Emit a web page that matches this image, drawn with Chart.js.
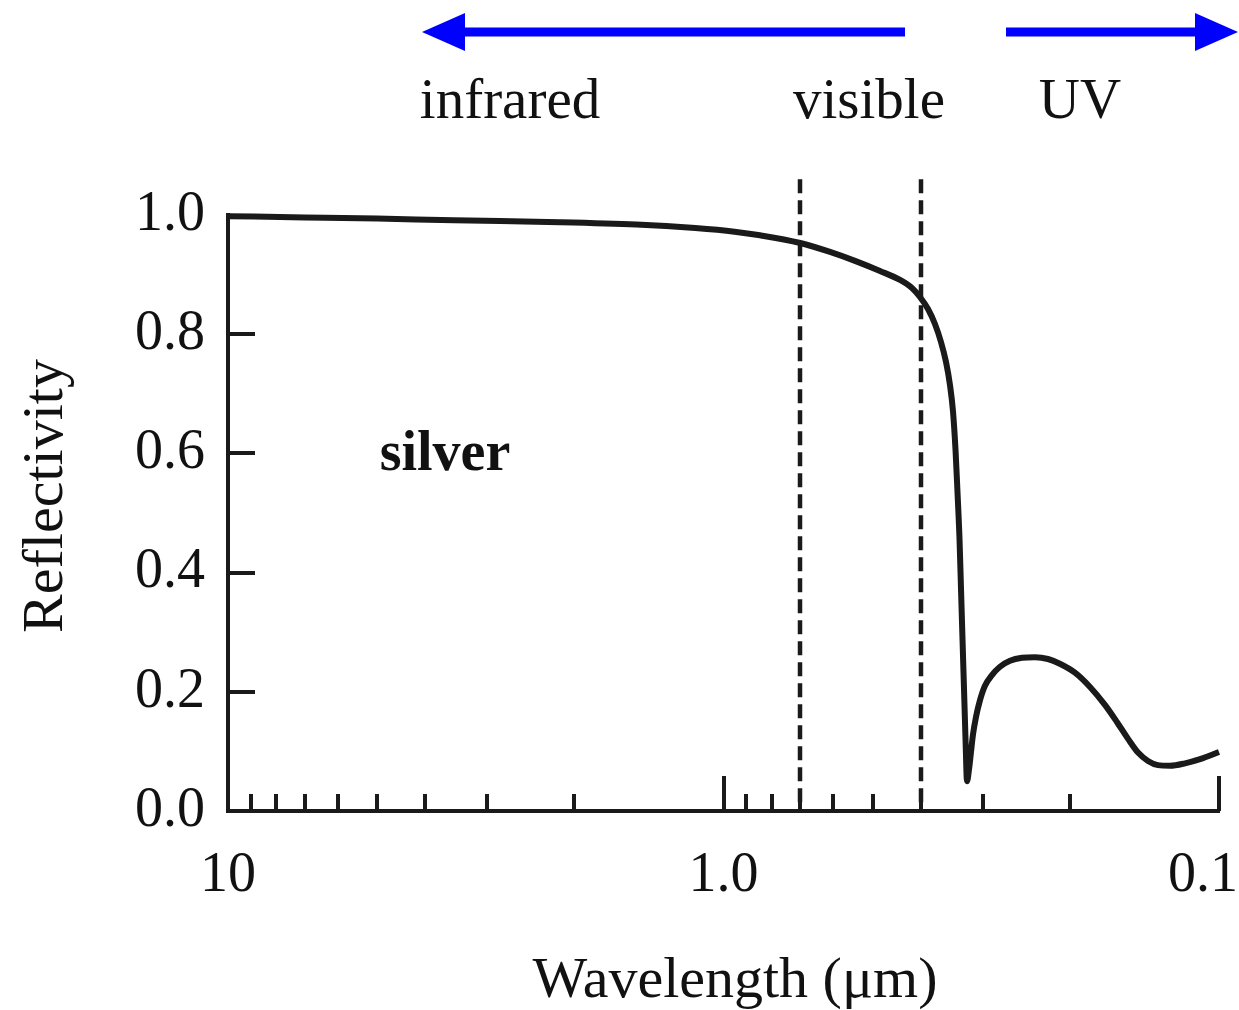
<!DOCTYPE html>
<html>
<head>
<meta charset="utf-8">
<script src="https://cdn.jsdelivr.net/npm/chart.js@4.4.1/dist/chart.umd.min.js"></script>
<style>
  html, body { margin: 0; padding: 0; background: #fff; }
</style>
</head>
<body>
<canvas id="reflChart" width="1239" height="1010"></canvas>
<script>
// silver reflectivity vs wavelength (um)
var wavelengths = [10, 7, 5, 3.5, 2.14, 1.5, 1.14, 0.95, 0.844, 0.7, 0.6096, 0.5428, 0.4832, 0.4403, 0.4165, 0.4013,
                   0.3866, 0.3743, 0.364, 0.3556, 0.3491, 0.3442, 0.3402, 0.3371, 0.3339, 0.3316, 0.3293,
                   0.327, 0.3248, 0.3225,
                   0.3196, 0.3166, 0.3137, 0.3093, 0.3036, 0.2967, 0.2872, 0.2767, 0.2641, 0.2498, 0.2351,
                   0.2214, 0.2095, 0.1953, 0.1821, 0.1699, 0.1606, 0.1526, 0.1457, 0.1391, 0.1328, 0.1256,
                   0.1171, 0.1092, 0.1];
var reflectivity = [0.998, 0.996, 0.994, 0.991, 0.988, 0.984, 0.978, 0.972, 0.966, 0.953, 0.938, 0.923, 0.906, 0.891, 0.8775, 0.8624,
                    0.8423, 0.8171, 0.7869, 0.7534, 0.7148, 0.6705, 0.6057, 0.535, 0.455, 0.371, 0.287,
                    0.203, 0.122, 0.05,
                    0.069, 0.099, 0.128, 0.158, 0.186, 0.210, 0.228, 0.242, 0.252, 0.257, 0.258,
                    0.255, 0.247, 0.232, 0.208, 0.178, 0.149, 0.121, 0.098, 0.084, 0.077, 0.076,
                    0.080, 0.087, 0.099];

var xMajorTicks = [10, 1, 0.1];
var xTickLabels = ['10', '1.0', '0.1'];
var xMinorTicks = [9, 8, 7, 6, 5, 4, 3, 2, 0.9, 0.8, 0.7, 0.6, 0.5, 0.4, 0.3, 0.2];
var yTickValues = [0, 0.2, 0.4, 0.6, 0.8, 1.0];
var yInnerTicks = [0.2, 0.4, 0.6, 0.8];
var visibleEdges = [0.7, 0.4];
var bandLabels = ['infrared', 'visible', 'UV'];
var materialLabel = 'silver';
var xTitle = 'Wavelength (μm)';
var yTitle = 'Reflectivity';

var ink = '#1a1a1a';
var serif = '"Liberation Serif", "Times New Roman", serif';

var points = [];
for (var i = 0; i < wavelengths.length; i++) {
  points.push({x: wavelengths[i], y: reflectivity[i]});
}

function arrow(ctx, x0, x1, y, dir) {
  // dir -1 = head on the left, +1 = head on the right
  var headLen = 43, headHalf = 19;
  ctx.fillStyle = '#0000ff';
  if (dir < 0) {
    ctx.fillRect(x0 + headLen - 2, y - 4.5, x1 - x0 - headLen + 2, 9);
    ctx.beginPath();
    ctx.moveTo(x0, y);
    ctx.lineTo(x0 + headLen, y - headHalf);
    ctx.lineTo(x0 + headLen, y + headHalf);
    ctx.closePath();
    ctx.fill();
  } else {
    ctx.fillRect(x0, y - 4.5, x1 - x0 - headLen + 2, 9);
    ctx.beginPath();
    ctx.moveTo(x1, y);
    ctx.lineTo(x1 - headLen, y - headHalf);
    ctx.lineTo(x1 - headLen, y + headHalf);
    ctx.closePath();
    ctx.fill();
  }
}

var decorPlugin = {
  id: 'decor',
  beforeDatasetsDraw: function(chart) {
    var ctx = chart.ctx, xs = chart.scales.x, ys = chart.scales.y;
    ctx.save();
    ctx.strokeStyle = ink;
    ctx.lineWidth = 4.5;
    ctx.setLineDash([14, 7]);
    visibleEdges.forEach(function(v) {
      var px = Math.round(xs.getPixelForValue(v));
      ctx.beginPath();
      ctx.moveTo(px, ys.getPixelForValue(1.06));
      ctx.lineTo(px, ys.getPixelForValue(0));
      ctx.stroke();
    });
    ctx.restore();
  },
  afterDraw: function(chart) {
    var ctx = chart.ctx, xs = chart.scales.x, ys = chart.scales.y;
    var bottom = ys.getPixelForValue(0);
    var left = xs.getPixelForValue(10);
    ctx.save();
    ctx.strokeStyle = ink;
    ctx.lineWidth = 4;
    ctx.setLineDash([]);
    // inward tick marks
    xMajorTicks.forEach(function(v) {
      var px = Math.round(xs.getPixelForValue(v));
      ctx.beginPath(); ctx.moveTo(px, bottom); ctx.lineTo(px, bottom - 35); ctx.stroke();
    });
    xMinorTicks.forEach(function(v) {
      var px = Math.round(xs.getPixelForValue(v));
      ctx.beginPath(); ctx.moveTo(px, bottom); ctx.lineTo(px, bottom - 17); ctx.stroke();
    });
    yInnerTicks.forEach(function(v) {
      var py = Math.round(ys.getPixelForValue(v));
      ctx.beginPath(); ctx.moveTo(left, py); ctx.lineTo(left + 27, py); ctx.stroke();
    });

    // spectrum bands at the top
    arrow(ctx, 422, 905, 32, -1);
    arrow(ctx, 1006, 1238, 32, 1);

    ctx.fillStyle = '#111';
    ctx.textAlign = 'center';
    ctx.textBaseline = 'alphabetic';

    // x tick labels
    ctx.font = '56px ' + serif;
    xMajorTicks.forEach(function(v, i) {
      var w = ctx.measureText(xTickLabels[i]).width;
      var px = Math.min(xs.getPixelForValue(v), chart.width - w / 2 - 1);
      ctx.fillText(xTickLabels[i], px, 891);
    });

    ctx.font = '57px ' + serif;
    ctx.fillText(bandLabels[0], 510, 118);
    ctx.fillText(bandLabels[1], 869, 118);
    ctx.fillText(bandLabels[2], 1080, 118);

    // axis titles
    ctx.font = '58px ' + serif;
    ctx.fillText(xTitle, 735, 997);
    ctx.save();
    ctx.translate(47, 496);
    ctx.rotate(-Math.PI / 2);
    ctx.textBaseline = 'middle';
    ctx.fillText(yTitle, 0, 0);
    ctx.restore();

    // material label
    ctx.font = 'bold 56px ' + serif;
    ctx.fillText(materialLabel, 445, 470);
    ctx.restore();
  }
};

var ctx = document.getElementById('reflChart');
var reflChart = new Chart(ctx, {
  type: 'scatter',
  data: {
    datasets: [{
      label: 'silver',
      data: points,
      showLine: true,
      borderColor: ink,
      borderWidth: 6,
      pointRadius: 0,
      cubicInterpolationMode: 'monotone',
      clip: false
    }]
  },
  options: {
    responsive: false,
    devicePixelRatio: 1,
    animation: false,
    layout: { padding: { top: 215, right: 20, left: 0, bottom: 0 } },
    plugins: {
      legend: { display: false },
      tooltip: { enabled: false }
    },
    scales: {
      x: {
        type: 'logarithmic',
        reverse: true,
        min: 0.1,
        max: 10,
        afterFit: function(scale) { scale.height = 199; },
        ticks: { display: false },
        grid: { drawOnChartArea: false, drawTicks: false },
        border: { color: ink, width: 4 }
      },
      y: {
        min: 0,
        max: 1,
        afterFit: function(scale) { scale.width = 228; },
        afterBuildTicks: function(scale) {
          scale.ticks = yTickValues.map(function(v) { return {value: v}; });
        },
        ticks: {
          callback: function(v) { return Number(v).toFixed(1); },
          color: '#111',
          font: { family: serif, size: 56 },
          padding: 23
        },
        grid: { drawOnChartArea: false, drawTicks: false },
        border: { color: ink, width: 4 }
      }
    }
  },
  plugins: [decorPlugin]
});
</script>
</body>
</html>
